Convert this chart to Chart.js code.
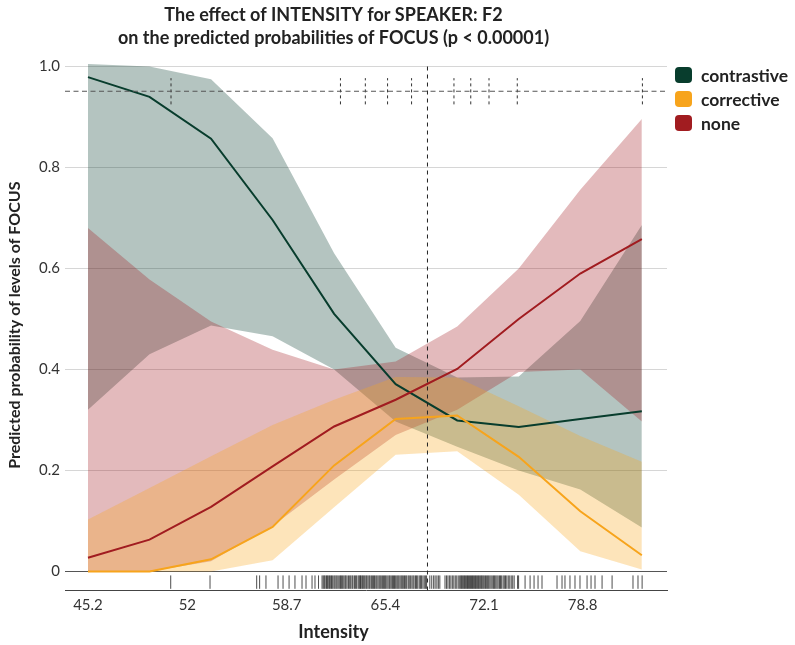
<!DOCTYPE html>
<html>
<head>
<meta charset="utf-8">
<script src="https://cdn.jsdelivr.net/npm/chart.js@4.4.1/dist/chart.umd.min.js"></script>
<style>
  html, body { margin: 0; padding: 0; background: #fff; }
  #wrap { position: relative; width: 795px; height: 645px; }
  #box { position: absolute; left: 0; top: 0; width: 700px; height: 645px; }
  #legend { position: absolute; left: 675px; top: 63px; font: bold 17.5px Lato, sans-serif; color: #222; }
  .item { display: flex; align-items: center; height: 24px; }
  .sw { width: 17px; height: 16px; border-radius: 4px; margin-right: 9px; }
</style>
</head>
<body>
<div id="wrap">
  <div id="box"><canvas id="effectChart"></canvas></div>
  <div id="legend"></div>
</div>
<script>
// --- data ---
const intensity = [45.2, 49.38, 53.56, 57.74, 61.92, 66.1, 70.28, 74.46, 78.64, 82.82];

const contrastiveFit   = [0.979, 0.940, 0.857, 0.696, 0.510, 0.371, 0.299, 0.286, 0.302, 0.317];
const contrastiveLower = [0.320, 0.430, 0.487, 0.466, 0.400, 0.297, 0.247, 0.200, 0.162, 0.087];
const contrastiveUpper = [1.005, 1.000, 0.975, 0.858, 0.630, 0.443, 0.384, 0.386, 0.496, 0.686];

const correctiveFit   = [0.000, 0.000, 0.024, 0.088, 0.210, 0.302, 0.309, 0.227, 0.119, 0.032];
const correctiveLower = [0.000, 0.000, 0.000, 0.022, 0.127, 0.231, 0.238, 0.152, 0.040, 0.004];
const correctiveUpper = [0.103, 0.165, 0.228, 0.290, 0.340, 0.385, 0.384, 0.327, 0.268, 0.217];

const noneFit   = [0.027, 0.063, 0.128, 0.208, 0.287, 0.340, 0.401, 0.500, 0.590, 0.658];
const noneLower = [0.000, 0.000, 0.020, 0.090, 0.182, 0.270, 0.320, 0.395, 0.400, 0.297];
const noneUpper = [0.680, 0.578, 0.495, 0.439, 0.400, 0.416, 0.485, 0.600, 0.756, 0.896];

// observed intensity values (rug)
const rugValues = [
  50.82, 53.49, 56.66, 56.86, 57.29, 58.11, 58.45, 58.86, 59.26, 59.74, 60.01, 60.42, 60.62, 60.86, 61.10,
  61.18, 61.25, 61.31, 61.40, 61.46, 61.52, 61.60, 61.66, 61.74, 61.80, 61.90, 61.97, 62.05, 62.12, 62.20, 62.30, 62.36, 62.43,
  62.50, 62.58, 62.66, 62.72, 62.80, 62.90, 62.98, 63.05, 63.14, 63.20, 63.30, 63.38, 63.45, 63.55, 63.62,
  63.68, 63.72, 63.80, 63.86, 63.93, 64.00, 64.08, 64.14, 64.22, 64.30, 64.36, 64.45, 64.52, 64.60, 64.66, 64.75, 64.82,
  64.90, 64.98, 65.05, 65.12, 65.20, 65.28, 65.35, 65.42, 65.50, 65.58, 65.66, 65.72, 65.80, 65.88, 65.95, 66.02, 66.10,
  66.18, 66.25, 66.32, 66.40, 66.48, 66.55, 66.62, 66.70, 66.78, 66.85, 66.95, 67.02, 67.10, 67.20, 67.28, 67.35, 67.45,
  67.52, 67.60, 67.70, 67.78, 67.85, 67.95, 68.04, 68.12, 68.20, 68.42, 68.55, 68.68, 68.78, 68.90, 69.00, 69.10,
  69.45, 69.55, 69.65, 69.75, 69.85, 69.95, 70.05, 70.15, 70.25, 70.35, 70.45,
  70.52, 70.58, 70.65, 70.72, 70.78, 70.85, 70.92, 70.98, 71.05, 71.12, 71.18, 71.25, 71.32, 71.38,
  71.45, 71.52, 71.58, 71.65, 71.72, 71.78, 71.85, 71.92, 71.98, 72.05, 72.12, 72.20, 72.28, 72.35,
  72.42, 72.50, 72.58, 72.66, 72.75, 72.82, 72.90, 72.98, 73.06, 73.15, 73.22, 73.30, 73.40, 73.48, 73.56,
  73.65, 73.75, 73.85, 73.95, 74.05, 74.15, 74.38, 74.45, 74.89, 75.23, 75.50, 75.77, 76.04,
  77.06, 77.40, 77.60, 77.94, 78.28, 78.62, 79.10, 79.37, 79.64, 80.12, 80.80, 82.22, 82.56, 82.84
];

// reference marks along the top
const refIntensity = 68.26;
const refLevel = 0.951;
const refMarks = [50.84, 62.35, 64.04, 65.55, 67.18, 70.06, 71.20, 72.44, 74.36, 82.86];

const xTicks = [45.2, 51.95, 58.7, 65.4, 72.1, 78.8];
const xTickLabels = ['45.2', '52', '58.7', '65.4', '72.1', '78.8'];
const yTicks = [0, 0.2, 0.4, 0.6, 0.8, 1.0];

const levels = ['contrastive', 'corrective', 'none'];
const levelColors = ['#083d2d', '#f7a41c', '#a11c20'];

// --- chart ---
const X_MIN = 43.64, X_MAX = 84.53;
const Y_MIN = -0.0376, Y_MAX = 1.0129;
const RUG_Y = -0.0212;
const MARK_HALF = 0.026;
const FONT = 'Lato';

const pts = (ys) => intensity.map((x, i) => ({ x, y: ys[i] }));

function band(upper, lower, rgb, order) {
    return [
        { data: pts(upper), fill: '+1', backgroundColor: `rgba(${rgb},0.3)`, borderWidth: 0, pointRadius: 0, order },
        { data: pts(lower), fill: false, borderWidth: 0, pointRadius: 0, order }
    ];
}

function fitLine(ys, color, order) {
    return { data: pts(ys), borderColor: color, borderWidth: 2, pointRadius: 0, fill: false, order };
}

const datasets = [
    ...band(contrastiveUpper, contrastiveLower, '8,61,45', 10),
    ...band(noneUpper, noneLower, '161,28,32', 9),
    ...band(correctiveUpper, correctiveLower, '247,164,28', 8),
    fitLine(contrastiveFit, levelColors[0], 6),
    fitLine(noneFit, levelColors[2], 5),
    fitLine(correctiveFit, levelColors[1], 4),
    {
        data: rugValues.map(v => ({ x: v, y: RUG_Y })),
        showLine: false, pointStyle: 'line', pointRotation: 90, pointRadius: 6.7,
        pointBorderColor: 'rgba(0,0,0,0.7)', pointBorderWidth: 1, order: 3
    },
    {
        data: [{ x: X_MIN, y: refLevel }, { x: X_MAX, y: refLevel }],
        borderColor: '#555', borderWidth: 1, borderDash: [5, 3.5], pointRadius: 0, fill: false, order: 2
    },
    {
        data: refMarks.flatMap(m => [{ x: m, y: refLevel - MARK_HALF }, { x: m, y: refLevel + MARK_HALF }, { x: m, y: null }]),
        borderColor: '#333', borderWidth: 1, borderDash: [3, 3], pointRadius: 0, fill: false, spanGaps: false, order: 2
    },
    {
        data: [{ x: refIntensity, y: 1.0 }, { x: refIntensity, y: Y_MIN }],
        borderColor: '#222', borderWidth: 1, borderDash: [4, 4], pointRadius: 0, fill: false, order: 1
    }
];

new Chart(document.getElementById('effectChart'), {
    type: 'line',
    data: { datasets },
    options: {
        responsive: true,
        maintainAspectRatio: false,
        animation: false,
        events: [],
        layout: { padding: { left: 0, right: 33, top: 0, bottom: 0 } },
        scales: {
            x: {
                type: 'linear', min: X_MIN, max: X_MAX,
                afterBuildTicks: (s) => { s.ticks = xTicks.map(v => ({ value: v })); },
                afterFit: (s) => { s.height = 31.4; },
                grid: { display: false },
                border: { display: true, color: '#444', width: 1 },
                ticks: {
                    padding: -2, color: '#333', font: { family: FONT, size: 15 },
                    maxRotation: 0, autoSkip: false,
                    callback: (v, i) => xTickLabels[i]
                }
            },
            y: {
                min: Y_MIN, max: Y_MAX,
                afterBuildTicks: (s) => { s.ticks = yTicks.map(v => ({ value: v })); },
                afterFit: (s) => { s.width = 65; },
                grid: {
                    drawTicks: false, lineWidth: 1,
                    color: (c) => (c.tick && c.tick.value === 0) ? '#555' : '#d6d6d6'
                },
                border: { display: false },
                ticks: {
                    padding: 5, color: '#333', font: { family: FONT, size: 15 },
                    callback: (v) => v === 0 ? '0' : v.toFixed(1)
                },
                title: {
                    display: true, text: 'Predicted probability of levels of FOCUS',
                    color: '#222', font: { family: FONT, size: 16, weight: 'bold' },
                    padding: { top: 5, bottom: 0 }
                }
            }
        },
        plugins: {
            legend: { display: false },
            tooltip: { enabled: false },
            title: {
                display: true,
                text: ['The effect of INTENSITY for SPEAKER: F2', 'on the predicted probabilities of FOCUS (p < 0.00001)'],
                color: '#222', font: { family: FONT, size: 18, weight: 'bold', lineHeight: 1.3 },
                padding: { top: 3.5, bottom: 9.7 }
            },
            subtitle: {
                display: true, position: 'bottom', text: 'Intensity',
                color: '#222', font: { family: FONT, size: 18, weight: 'bold' },
                padding: { top: 0, bottom: 1.6 }
            }
        }
    }
});

// legend
const legendEl = document.getElementById('legend');
levels.forEach((name, i) => {
    const row = document.createElement('div');
    row.className = 'item';
    row.innerHTML = `<span class="sw" style="background:${levelColors[i]}"></span><span>${name}</span>`;
    legendEl.appendChild(row);
});
</script>
</body>
</html>
